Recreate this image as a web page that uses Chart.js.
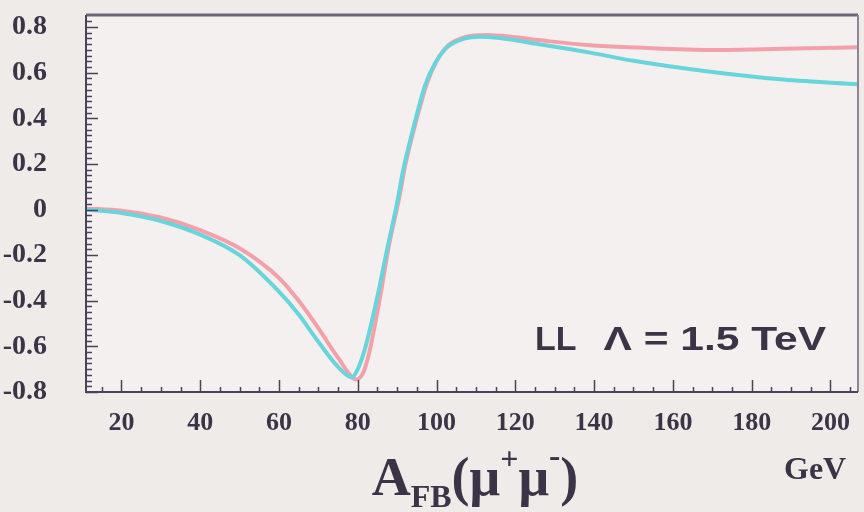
<!DOCTYPE html>
<html>
<head>
<meta charset="utf-8">
<script src="https://cdn.jsdelivr.net/npm/chart.js@4"></script>
<style>
  html, body { margin: 0; padding: 0; background: #efebe9; }
  #wrap { width: 864px; height: 512px; }
</style>
</head>
<body>
<div id="wrap"><canvas id="afbChart" width="864" height="512"></canvas></div>
<script>
// 読み取った値 (GeV, A_FB)
const massCyan = [11, 20, 30, 40, 50, 60, 65, 70, 75, 78.5, 80, 82, 85, 87.5, 90, 91.5, 94.6, 97, 99.6, 102.6, 106.8, 111, 116, 126, 139, 150, 169, 188, 208];
const afbCyan  = [0.0, -0.015, -0.05, -0.11, -0.20, -0.36, -0.46, -0.58, -0.69, -0.735, -0.70, -0.60, -0.38, -0.17, 0.03, 0.17, 0.39, 0.54, 0.64, 0.71, 0.748, 0.758, 0.752, 0.725, 0.688, 0.652, 0.605, 0.57, 0.548];

const massPink = [11, 20, 30, 40, 50, 60, 65, 70, 75, 79.7, 81.5, 83, 85.5, 88, 90.5, 92, 95, 97.5, 100, 103, 107, 113, 120, 126, 139, 151, 170, 188, 208];
const afbPink  = [0.005, -0.005, -0.035, -0.09, -0.17, -0.30, -0.40, -0.52, -0.65, -0.745, -0.71, -0.62, -0.40, -0.15, 0.05, 0.19, 0.40, 0.55, 0.65, 0.72, 0.755, 0.765, 0.755, 0.743, 0.72, 0.71, 0.70, 0.705, 0.712];

const xTickValues = [20, 40, 60, 80, 100, 120, 140, 160, 180, 200];
const yTickValues = [-0.8, -0.6, -0.4, -0.2, 0, 0.2, 0.4, 0.6, 0.8];

const INK = '#3b3446';

// 背景と枠、内向きの目盛り、文字
const framePlugin = {
  id: 'frame',
  beforeDraw(chart) {
    const { ctx, chartArea: a } = chart;
    ctx.save();
    ctx.fillStyle = '#efebe9';
    ctx.fillRect(0, 0, chart.width, chart.height);
    ctx.fillStyle = '#f4f0ef';
    ctx.fillRect(a.left, a.top, a.right - a.left, a.bottom - a.top);
    ctx.restore();
  },
  afterDraw(chart) {
    const { ctx, chartArea: a } = chart;
    const xs = chart.scales.x, ys = chart.scales.y;
    ctx.save();
    // 上と右の枠
    ctx.strokeStyle = '#6c6479';
    ctx.lineWidth = 3;
    ctx.beginPath();
    ctx.moveTo(a.left, a.top); ctx.lineTo(a.right, a.top);
    ctx.stroke();
    ctx.strokeStyle = '#8d8794';
    ctx.lineWidth = 2;
    ctx.beginPath();
    ctx.moveTo(a.right, a.top); ctx.lineTo(a.right, a.bottom);
    ctx.stroke();
    // 軸線
    ctx.strokeStyle = '#4a4259';
    ctx.lineWidth = 2;
    ctx.beginPath();
    ctx.moveTo(a.left, a.top); ctx.lineTo(a.left, a.bottom); ctx.lineTo(a.right, a.bottom);
    ctx.stroke();
    // y 目盛り (0.025 刻み)
    ctx.lineWidth = 1.5;
    ctx.beginPath();
    for (let i = -32; i <= 34; i++) {
      const py = Math.round(ys.getPixelForValue(i * 0.025)) + 0.5;
      if (py < a.top + 2) continue;
      const len = i % 8 === 0 ? 12 : 6;
      ctx.moveTo(a.left, py); ctx.lineTo(a.left + len, py);
    }
    // x 目盛り (5 GeV 刻み)
    for (let m = 15; m <= 205; m += 5) {
      const px = Math.round(xs.getPixelForValue(m)) + 0.5;
      const len = m % 20 === 0 ? 12 : 5;
      ctx.moveTo(px, a.bottom); ctx.lineTo(px, a.bottom - len);
    }
    ctx.stroke();

    // 注記
    ctx.fillStyle = INK;
    ctx.textBaseline = 'alphabetic';
    ctx.textAlign = 'left';
    ctx.font = 'bold 34px "Liberation Sans"';
    ctx.fillText('LL', 535, 350);
    ctx.save();
    ctx.translate(826, 350);
    ctx.scale(1.25, 1);
    ctx.textAlign = 'right';
    ctx.fillText('Λ = 1.5 TeV', 0, 0);
    ctx.restore();

    // GeV
    ctx.textAlign = 'left';
    ctx.font = 'bold 32px "Liberation Serif"';
    ctx.fillText('GeV', 784, 479);

    // 軸タイトル A_FB(μ+μ-)
    const parts = [
      { t: 'A', size: 54, dy: 0 },
      { t: 'FB', size: 32, dy: 12 },
      { t: '(μ', size: 54, dy: 0 },
      { t: '+', size: 32, dy: -26 },
      { t: 'μ', size: 54, dy: 0 },
      { t: '-', size: 34, dy: -28 },
      { t: ')', size: 54, dy: 0 }
    ];
    let total = 0;
    parts.forEach(p => {
      ctx.font = 'bold ' + p.size + 'px "Liberation Serif"';
      p.w = ctx.measureText(p.t).width;
      total += p.w;
    });
    let x = 475 - total / 2;
    const base = 495;
    parts.forEach(p => {
      ctx.font = 'bold ' + p.size + 'px "Liberation Serif"';
      ctx.fillText(p.t, x, base + p.dy);
      x += p.w;
    });
    ctx.restore();
  }
};

const ctx = document.getElementById('afbChart').getContext('2d');
new Chart(ctx, {
  type: 'line',
  data: {
    datasets: [{
      label: 'cyan',
      data: massCyan.map((m, i) => ({ x: m, y: afbCyan[i] })),
      borderColor: 'rgb(104, 212, 219)',
      borderWidth: 4,
      pointRadius: 0,
      fill: false,
      cubicInterpolationMode: 'monotone'
    }, {
      label: 'pink',
      data: massPink.map((m, i) => ({ x: m, y: afbPink[i] })),
      borderColor: 'rgb(244, 160, 170)',
      borderWidth: 4,
      pointRadius: 0,
      fill: false,
      cubicInterpolationMode: 'monotone'
    }]
  },
  options: {
    responsive: false,
    animation: false,
    plugins: {
      legend: { display: false },
      tooltip: { enabled: false }
    },
    layout: {
      padding: { top: 15, right: 6, left: 0, bottom: 0 }
    },
    scales: {
      x: {
        type: 'linear',
        min: 11,
        max: 207,
        afterBuildTicks: scale => { scale.ticks = xTickValues.map(v => ({ value: v })); },
        afterFit: scale => {
          scale.height = 120;
          scale.paddingLeft = 0;
          scale.paddingRight = 0;
        },
        grid: { display: false },
        border: { display: false },
        ticks: {
          color: INK,
          padding: 8,
          maxRotation: 0,
          font: { family: 'Liberation Serif', weight: 'bold', size: 26 }
        }
      },
      y: {
        type: 'linear',
        min: -0.8,
        max: 0.853,
        afterBuildTicks: scale => { scale.ticks = yTickValues.map(v => ({ value: v })); },
        afterFit: scale => {
          scale.width = 86;
          scale.paddingTop = 0;
          scale.paddingBottom = 0;
        },
        grid: { display: false },
        border: { display: false },
        ticks: {
          color: INK,
          padding: 31,
          font: { family: 'Liberation Serif', weight: 'bold', size: 28 },
          callback: v => (Math.abs(v) < 1e-9 ? '0' : v.toFixed(1))
        }
      }
    }
  },
  plugins: [framePlugin]
});
</script>
</body>
</html>
